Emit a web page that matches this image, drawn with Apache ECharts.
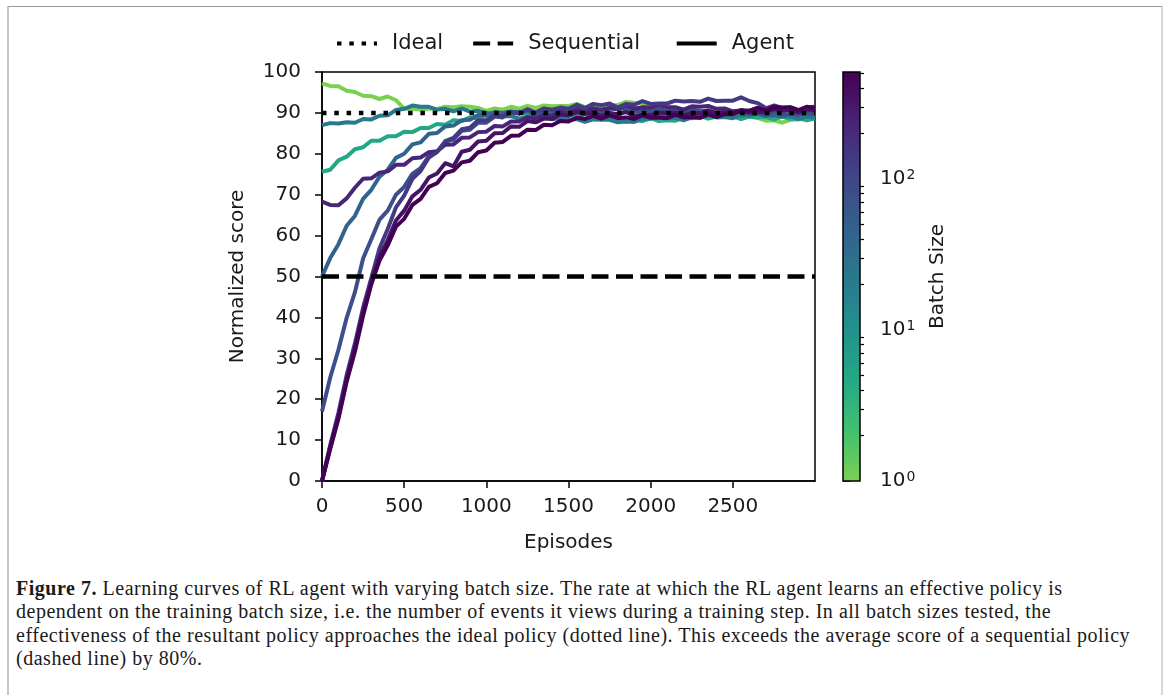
<!DOCTYPE html>
<html>
<head>
<meta charset="utf-8">
<script src="https://cdn.jsdelivr.net/npm/echarts@6/dist/echarts.min.js"></script>
<style>
  html, body { margin: 0; padding: 0; background: #fff; }
  #frame { position: absolute; left: 7px; top: 6px; width: 1152px; height: 720px;
    border-top: 1px solid #9a9a9a; border-left: 2px solid #c6c6c6; border-right: 2px solid #d6d6d6; }
  #chart { position: absolute; left: 0; top: 0; width: 1167px; height: 570px; }
  #caption { position: absolute; left: 16px; top: 577px; width: 1140px;
    font-family: 'Liberation Serif', 'DejaVu Serif', serif; font-size: 20px; letter-spacing: 0.52px; line-height: 23.3px;
    color: #1a1a1a; white-space: nowrap; }
</style>
</head>
<body>
<div id="frame"></div>
<div id="chart"></div>
<div id="caption">
  <b>Figure 7.</b> Learning curves of RL agent with varying batch size. The rate at which the RL agent learns an effective policy is<br>
  dependent on the training batch size, i.e. the number of events it views during a training step. In all batch sizes tested, the<br>
  effectiveness of the resultant policy approaches the ideal policy (dotted line). This exceeds the average score of a sequential policy<br>
  (dashed line) by 80%.
</div>
<script>
// episodes sampled every 50
const episodes = [0,50,100,150,200,250,300,350,400,450,500,550,600,650,700,750,800,850,900,950,
  1000,1050,1100,1150,1200,1250,1300,1350,1400,1450,1500,1550,1600,1650,1700,1750,1800,1850,1900,1950,
  2000,2050,2100,2150,2200,2250,2300,2350,2400,2450,2500,2550,2600,2650,2700,2750,2800,2850,2900,2950,3000]

const idealScore = 90
const sequentialScore = 50

// learning curves, one per batch size (normalized score)
const batch1 = [97.2,96.6,96.5,95.4,95.1,94.2,94.1,93.4,94.0,93.1,91.0,91.0,90.8,91.1,90.9,91.5,91.4,91.6,91.5,91.2,
  90.5,91.1,90.8,91.5,91.0,91.7,91.2,91.8,91.6,91.7,91.7,92.2,91.4,91.5,91.3,91.9,91.9,92.7,92.4,92.4,
  91.1,91.0,90.4,91.1,90.5,90.6,90.3,90.5,89.9,90.2,89.6,89.8,89.0,88.8,88.1,88.2,87.6,88.3,88.4,89.2,89.1]
const batch8 = [75.6,76.1,78.4,79.3,81.1,81.6,83.2,83.2,84.3,84.3,85.4,85.3,86.3,86.3,87.3,87.1,88.2,88.0,88.9,88.7,
  89.7,89.4,89.9,89.6,90.4,89.7,90.0,89.5,90.3,89.5,89.8,89.0,89.7,88.8,89.2,88.4,88.7,87.9,88.3,88.0,
  88.7,88.0,88.2,88.1,88.8,88.7,89.3,88.6,89.1,89.0,89.2,88.5,89.1,88.9,89.0,88.4,89.1,88.5,88.7,88.2,88.6]
const batch16 = [87.0,87.5,87.4,87.7,87.6,88.5,88.4,89.3,89.4,90.7,91.0,91.8,91.5,91.5,90.8,91.0,90.4,91.1,90.3,90.5,
  89.9,89.9,89.2,89.2,88.6,89.1,89.0,89.2,88.5,88.6,88.4,88.5,87.8,88.4,88.3,88.3,87.7,87.9,87.8,88.6,
  88.6,89.3,88.7,88.8,88.2,88.9,88.8,89.5,88.9,89.0,88.7,89.4,89.3,89.9,89.7,89.8,89.1,89.2,88.5,89.1,88.8]
const batch32 = [50.0,54.5,57.9,62.4,64.8,69.0,71.2,74.4,76.1,79.0,80.0,82.3,82.8,84.9,85.1,86.7,86.9,88.2,88.3,89.5,
  89.3,90.2,90.0,90.4,90.1,90.5,89.7,90.6,90.3,90.7,89.8,90.1,89.8,90.6,89.6,89.9,89.5,90.5,90.2,90.6,
  89.8,89.9,89.2,89.8,89.7,90.4,89.8,89.9,89.3,90.0,89.9,90.5,89.8,89.9,89.3,89.4,89.2,89.9,89.7,89.8,89.6]
const batch64 = [17.0,25.3,32.1,39.9,46.1,54.4,59.1,63.9,66.1,70.0,71.9,75.1,76.5,79.4,80.5,82.9,83.5,85.6,85.9,87.6,
  87.6,89.1,88.9,90.2,89.8,90.7,89.9,90.9,90.6,90.9,90.0,91.0,90.7,91.1,90.2,91.1,90.9,91.3,90.4,90.7,
  90.4,91.1,90.4,90.5,90.3,91.0,90.4,90.5,89.8,90.4,90.3,90.4,89.7,89.8,89.6,90.3,89.6,89.7,89.5,90.2,89.7]
const batch256 = [68.3,67.5,67.4,69.1,71.7,73.9,74.0,75.4,75.7,77.3,77.3,78.9,79.1,80.4,80.6,82.2,82.3,83.9,84.0,85.3,
  85.4,86.8,86.7,87.9,87.9,88.9,88.7,89.6,89.3,90.2,90.0,90.9,90.1,91.1,90.8,91.2,91.0,91.9,91.1,91.4,
  91.3,92.0,91.4,91.4,90.8,91.6,91.5,91.7,91.0,91.1,90.4,90.6,90.5,91.2,91.1,91.8,91.2,91.3,90.6,91.4,91.5]
const batch128 = [0.0,8.8,16.7,25.9,33.6,42.4,49.6,56.9,61.6,66.9,69.8,73.9,75.8,79.1,80.4,83.1,83.9,86.0,86.4,88.2,
  88.2,89.4,89.2,90.2,89.9,90.9,90.1,91.1,90.8,91.3,91.0,92.0,91.2,92.2,91.9,92.3,91.3,92.2,92.0,92.9,
  92.2,92.3,92.3,93.0,92.8,92.9,92.7,93.5,92.9,93.0,93.0,93.8,92.9,92.4,91.2,91.1,90.3,90.9,90.1,90.8,90.9]
const batch384 = [0.0,8.3,15.7,24.8,32.6,41.4,48.6,54.9,58.9,63.7,66.1,69.6,71.2,74.2,75.2,77.7,76.9,80.5,81.0,83.0,
  83.2,85.0,85.1,86.7,86.6,88.0,87.7,88.6,88.5,89.6,89.3,90.2,89.8,90.1,89.2,90.0,89.7,90.2,89.2,89.6,
  89.4,90.1,90.0,90.1,89.4,90.0,89.9,90.6,90.0,90.1,90.0,90.7,90.1,90.3,90.2,90.9,90.7,90.8,90.1,90.9,90.5]
const batch512 = [0.0,7.8,15.2,24.3,31.6,40.4,48.1,53.9,57.6,62.2,64.1,67.5,69.0,71.9,72.8,75.3,75.9,77.9,78.3,80.4,
  80.8,82.7,82.9,84.4,84.5,85.9,85.8,87.1,87.0,88.0,87.9,88.8,88.5,89.3,88.6,89.4,88.7,88.9,88.5,89.4,
  88.8,88.9,88.7,89.5,88.9,89.0,88.8,89.6,89.0,89.7,89.7,90.5,90.5,91.2,90.6,91.4,91.3,91.4,90.7,91.5,91.1]

const curves = [batch1, batch8, batch16, batch32, batch64, batch256, batch128, batch384, batch512]
const curveColors = ['#7ad151', '#22a884', '#29798e', '#33638d', '#3d4e8a', '#482576', '#443983', '#471365', '#440154']

// colorbar (batch size, log scale)
const batchMax = 512
const cbMajor = [1, 10, 100]
const cbMinor = [2,3,4,5,6,7,8,9,20,30,40,50,60,70,80,90,200,300,400,500]
const viridis = ['#440154','#482475','#414487','#355f8d','#2a788e','#21918c','#22a884','#44bf70','#7ad151']

const txt = '#1a1a1a'
const font = 'DejaVu Sans'
const chart = echarts.init(document.getElementById('chart'))

const agentSeries = curves.map((vals, i) => ({
  name: 'b' + i, type: 'line', xAxisIndex: 0, yAxisIndex: 0,
  data: episodes.map((e, j) => [e, vals[j]]),
  symbol: 'none', silent: true, z: 2,
  lineStyle: { color: curveColors[i], width: 4, join: 'round' }, itemStyle: { color: curveColors[i] }
}))

const cbLog = cbMajor.map(v => Math.log10(v))
const cbLogMinor = cbMinor.map(v => Math.log10(v))
const cbTop = Math.log10(batchMax)
const xTicks = [0, 500, 1000, 1500, 2000, 2500]

chart.setOption({
  animation: false,
  textStyle: { fontFamily: font },
  legend: {
    data: ['Ideal', 'Sequential', 'Agent'], left: 330, top: 28,
    itemWidth: 40, itemHeight: 14, itemGap: 28,
    itemStyle: { opacity: 0 },
    lineStyle: { width: 4 },
    formatter: name => name === 'Sequential' ? name + ' ' : name,
    textStyle: { fontSize: 21, color: txt, fontFamily: font, padding: [0, 0, 0, 10] }
  },
  grid: [
    { left: 322, top: 72, width: 493, height: 409, show: true, borderColor: '#000', borderWidth: 1.5, backgroundColor: 'transparent' },
    { left: 843, top: 72, width: 17, height: 409 }
  ],
  xAxis: [
    { type: 'value', gridIndex: 0, min: 0, max: 3000, interval: 500,
      axisLine: { lineStyle: { color: '#000', width: 1.5 } },
      axisTick: { length: 7, lineStyle: { color: '#000', width: 1.5 }, customValues: xTicks },
      axisLabel: { fontSize: 20, color: txt, margin: 16, customValues: xTicks, formatter: v => String(v) },
      splitLine: { show: false },
      name: 'Episodes', nameLocation: 'middle', nameGap: 52, nameTextStyle: { fontSize: 20, color: txt } },
    { type: 'value', gridIndex: 1, min: 0, max: 1, show: false }
  ],
  yAxis: [
    { type: 'value', gridIndex: 0, min: 0, max: 100, interval: 10,
      axisLine: { show: true, lineStyle: { color: '#000', width: 1.5 } },
      axisTick: { show: true, length: 7, lineStyle: { color: '#000', width: 1.5 } },
      axisLabel: { fontSize: 20, color: txt, margin: 21 },
      splitLine: { show: false },
      name: 'Normalized score', nameLocation: 'middle', nameGap: 74, nameTextStyle: { fontSize: 20, color: txt } },
    { type: 'value', gridIndex: 1, min: 0, max: cbTop, position: 'right',
      axisLine: { show: false },
      axisTick: { show: true, length: 7, lineStyle: { color: '#000', width: 1.5 }, customValues: cbLog },
      axisLabel: { fontSize: 20, color: txt, margin: 20, customValues: cbLog,
        formatter: v => '10{s|' + Math.round(v) + '}',
        rich: { s: { fontSize: 14, verticalAlign: 'top', padding: [0, 0, 8, 1] } } },
      splitLine: { show: false },
      name: 'Batch Size', nameLocation: 'middle', nameGap: 68, nameRotate: 90, nameTextStyle: { fontSize: 20, color: txt } },
    { type: 'value', gridIndex: 1, min: 0, max: cbTop, position: 'right',
      axisLine: { show: false },
      axisTick: { show: true, length: 4, lineStyle: { color: '#000', width: 1.2 }, customValues: cbLogMinor },
      axisLabel: { show: false }, splitLine: { show: false } }
  ],
  series: [
    ...agentSeries,
    { name: 'Ideal', type: 'line', xAxisIndex: 0, yAxisIndex: 0, symbol: 'none', silent: true, z: 5,
      data: [[0, idealScore], [3000, idealScore]], itemStyle: { color: '#000' },
      lineStyle: { color: '#000', width: 4.5, type: [4.5, 7.8], cap: 'butt' } },
    { name: 'Sequential', type: 'line', xAxisIndex: 0, yAxisIndex: 0, symbol: 'none', silent: true, z: 5,
      data: [[0, sequentialScore], [3000, sequentialScore]], itemStyle: { color: '#000' },
      lineStyle: { color: '#000', width: 4.5, type: [17, 7.5], cap: 'butt' } },
    { name: 'Agent', type: 'line', xAxisIndex: 0, yAxisIndex: 0, symbol: 'none', data: [],
      itemStyle: { color: '#000' }, lineStyle: { color: '#000', width: 4 } },
    { name: 'colorbar', type: 'custom', xAxisIndex: 1, yAxisIndex: 1, silent: true,
      data: [[0, cbTop]],
      renderItem: (params, api) => {
        const cs = params.coordSys
        const top = api.coord([0, api.value(1)])[1]
        const bottom = api.coord([0, 0])[1]
        return {
          type: 'rect',
          shape: { x: cs.x, y: top, width: cs.width, height: bottom - top },
          style: {
            fill: new echarts.graphic.LinearGradient(0, 0, 0, 1,
              viridis.map((c, i) => ({ offset: i / (viridis.length - 1), color: c }))),
            stroke: '#000', lineWidth: 1.5
          }
        }
      } }
  ]
})
</script>
</body>
</html>
